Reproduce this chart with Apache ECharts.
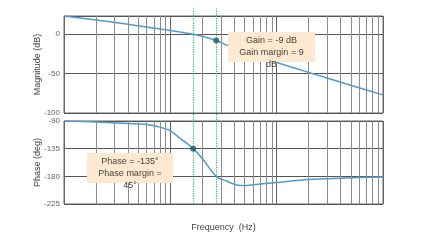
<!DOCTYPE html>
<html>
<head>
<meta charset="utf-8">
<script src="https://cdn.jsdelivr.net/npm/echarts@6/dist/echarts.min.js"></script>
<style>html,body{margin:0;padding:0;background:#fff;}#c{width:441px;height:246px;}</style>
</head>
<body>
<div id="c"></div>
<script>
// Data
var freqs = [1, 2, 4, 6, 8, 10, 12.3, 16.4, 20.4, 27, 34, 42, 50, 70, 100, 200, 400, 1000];
var magnitude = [23, 18, 12.5, 9, 6.5, 4.5, 2.6, 0, -3, -8, -14, -19.5, -23.5, -30, -36, -48.5, -61, -77];
var phase = [-90, -91.5, -94, -95.5, -100, -106, -118, -135, -153, -180, -188, -194, -195, -192.5, -190, -185, -183, -181];
var minorFreqs = [2,3,4,5,6,7,8,9,20,30,40,50,60,70,80,90,200,300,400,500,600,700,800,900];
var crossoverFreqs = [16.4, 27];
var gainPoint = [27, -8];
var phasePoint = [16.4, -135];
var magTicks = [-100, -50, 0];
var phaseTicks = [-225, -180, -135, -90];

function zip(a, b) { return a.map(function (v, i) { return [v, b[i]]; }); }

var chart = echarts.init(document.getElementById('c'), null, {renderer: 'canvas'});
var font = 'Liberation Sans, Arial, sans-serif';
var lineColor = '#4d9bd5';

function xAx(idx, extra) {
  var o = {
    type: 'log', logBase: 10, min: 1, max: 1000, gridIndex: idx,
    axisLine: {show: false}, axisTick: {show: false}, axisLabel: {show: false},
    splitLine: {show: idx < 2, lineStyle: {color: '#666', width: 1}}
  };
  for (var k in extra) o[k] = extra[k];
  return o;
}
function minorSeries(idx) {
  return {
    type: 'line', xAxisIndex: idx, yAxisIndex: idx, data: [], z: 1, silent: true,
    markLine: {
      silent: true, symbol: 'none', animation: false,
      label: {show: false},
      lineStyle: {color: '#8c8c8c', width: 1, type: 'solid'},
      data: minorFreqs.map(function (v) { return {xAxis: v}; })
    }
  };
}

chart.setOption({
  animation: false,
  backgroundColor: '#fff',
  grid: [
    {left: 64, right: 58, top: 16, height: 97, show: true, borderColor: '#666', borderWidth: 1},
    {left: 64, right: 58, top: 121, height: 83, show: true, borderColor: '#666', borderWidth: 1},
    {left: 64, right: 58, top: 8, height: 196}
  ],
  xAxis: [
    xAx(0, {}),
    xAx(1, {name: 'Frequency  (Hz)', nameLocation: 'middle', nameGap: 19, nameMoveOverlap: false,
      nameTextStyle: {fontSize: 9, color: '#444', fontFamily: font}}),
    xAx(2, {show: false})
  ],
  yAxis: [
    {type: 'value', gridIndex: 0, min: -100, max: 23, interval: 50,
      name: 'Magnitude (dB)', nameLocation: 'middle', nameGap: 22, nameMoveOverlap: false,
      nameTextStyle: {fontSize: 9, color: '#444', fontFamily: font},
      axisLine: {show: false}, axisTick: {show: false},
      axisLabel: {fontSize: 8, color: '#666', fontFamily: font, margin: 4, showMaxLabel: false,
        formatter: function (v) { return magTicks.indexOf(v) >= 0 ? String(v) : ''; }},
      splitLine: {lineStyle: {color: '#555', width: 1}}},
    {type: 'value', gridIndex: 1, min: -225, max: -90, interval: 45,
      name: 'Phase (deg)', nameLocation: 'middle', nameGap: 22, nameMoveOverlap: false,
      nameTextStyle: {fontSize: 9, color: '#444', fontFamily: font},
      axisLine: {show: false}, axisTick: {show: false},
      axisLabel: {fontSize: 8, color: '#666', fontFamily: font, margin: 4,
        formatter: function (v) { return phaseTicks.indexOf(v) >= 0 ? String(v) : ''; }},
      splitLine: {lineStyle: {color: '#555', width: 1}}},
    {type: 'value', gridIndex: 2, min: 0, max: 1, show: false}
  ],
  series: [
    minorSeries(0),
    minorSeries(1),
    {type: 'line', xAxisIndex: 0, yAxisIndex: 0, data: zip(freqs, magnitude), smooth: 0.3,
      showSymbol: false, z: 3, lineStyle: {color: lineColor, width: 1.5}},
    {type: 'line', xAxisIndex: 1, yAxisIndex: 1, data: zip(freqs, phase), smooth: 0.3,
      showSymbol: false, z: 3, lineStyle: {color: lineColor, width: 1.5}},
    {type: 'scatter', xAxisIndex: 0, yAxisIndex: 0, data: [gainPoint], symbolSize: 6, z: 5,
      itemStyle: {color: '#1d5c6b'}},
    {type: 'scatter', xAxisIndex: 1, yAxisIndex: 1, data: [phasePoint], symbolSize: 6, z: 5,
      itemStyle: {color: '#1d5c6b'}},
    {type: 'line', xAxisIndex: 2, yAxisIndex: 2, data: [], z: 4,
      markLine: {silent: true, symbol: 'none', animation: false, label: {show: false},
        lineStyle: {color: '#33bb55', width: 1.2, type: 'dotted'},
        data: crossoverFreqs.map(function (v) { return {xAxis: v}; })}}
  ],
  graphic: [
    {type: 'rect', z: 100, shape: {x: 228, y: 32, width: 87, height: 30}, style: {fill: '#fde9cf'}},
    {type: 'text', z: 101, x: 271.5, y: 34.5,
      style: {text: 'Gain = -9 dB\nGain margin = 9\ndB', fill: '#444', font: '9px ' + font,
        textAlign: 'center', textVerticalAlign: 'top', lineHeight: 12}},
    {type: 'rect', z: 100, shape: {x: 87, y: 153, width: 86, height: 30}, style: {fill: '#fde9cf'}},
    {type: 'text', z: 101, x: 130, y: 156,
      style: {text: 'Phase = -135°\nPhase margin =\n45°', fill: '#444', font: '9px ' + font,
        textAlign: 'center', textVerticalAlign: 'top', lineHeight: 12}}
  ]
});
</script>
</body>
</html>
